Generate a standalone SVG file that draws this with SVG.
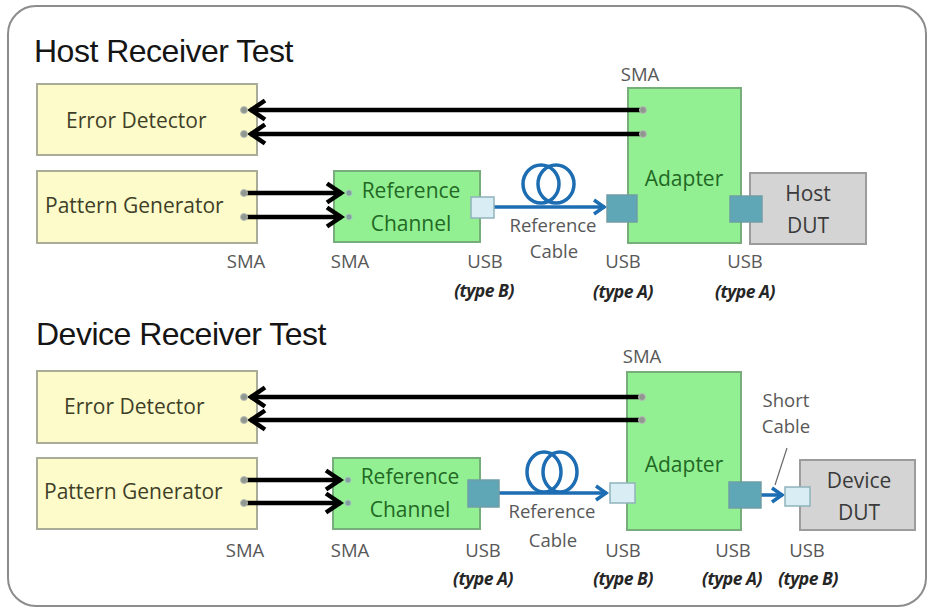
<svg xmlns="http://www.w3.org/2000/svg" width="927" height="610" viewBox="0 0 927 610">
  <style>
    .title { font-family: "Liberation Sans", Arial, sans-serif; font-size: 32px; letter-spacing: -0.5px; fill: #151515; }
    .yellow { fill: #fdfbc9; stroke: #a9ad98; stroke-width: 2; }
    .green { fill: #92f092; stroke: #76ad7a; stroke-width: 2; }
    .grey { fill: #d4d4d4; stroke: #9c9c9c; stroke-width: 2; }
    .ytxt { font-family: "Open Sans", "Noto Sans", sans-serif; font-size: 21px; fill: #3f3f28; }
    .gtxt { font-family: "Open Sans", "Noto Sans", sans-serif; font-size: 21px; fill: #226824; text-anchor: middle; }
    .dtxt { font-family: "Open Sans", "Noto Sans", sans-serif; font-size: 21px; fill: #3a3a3a; text-anchor: middle; }
    .lbl { font-family: "Open Sans", "Noto Sans", sans-serif; font-size: 18.5px; fill: #585858; text-anchor: middle; }
    .typ { font-family: "Open Sans", "Noto Sans", sans-serif; font-size: 17.5px; font-weight: bold; font-style: italic; fill: #262626; text-anchor: middle; letter-spacing: -0.5px; }
    .sma { fill: #8f978f; stroke: #b8beb8; stroke-width: 1; }
    .smain { fill: #7fa39a; stroke: #a9c4bd; stroke-width: 1; }
    .usbA { fill: #5fa6b6; stroke: #6f9ea6; stroke-width: 1.5; }
    .usbB { fill: #d9edf5; stroke: #8fb2ba; stroke-width: 1.5; }
    .wire { stroke: #000; stroke-width: 4.5; fill: none; }
    .cable { stroke: #1d6db3; stroke-width: 3.5; fill: none; }
    .leader { stroke: #6a6a6a; stroke-width: 1.2; fill: none; }
  </style>
  <defs>
    <marker id="chev" markerUnits="userSpaceOnUse" markerWidth="24" markerHeight="26" refX="18" refY="12" orient="auto">
      <path d="M3,2.5 L17,12 L3,21.5" fill="none" stroke="#000" stroke-width="4.5"/>
    </marker>
    <marker id="chevBlue" markerUnits="userSpaceOnUse" markerWidth="20" markerHeight="22" refX="14" refY="10" orient="auto">
      <path d="M3,3 L13,10 L3,17" fill="none" stroke="#1d6db3" stroke-width="3.5"/>
    </marker>
  </defs>

  <rect width="927" height="610" fill="#ffffff"/>
  <!-- outer frame -->
  <rect x="8" y="6" width="918" height="600" rx="28" fill="none" stroke="#8c8c8c" stroke-width="2"/>

  <!-- ===== Host receiver test ===== -->
  <text class="title" x="34" y="62">Host Receiver Test</text>

  <g id="host-error-detector">
    <rect class="yellow" x="37" y="84" width="220" height="71"/>
    <text class="ytxt" x="66" y="128">Error Detector</text>
  </g>
  <g id="host-pattern-generator">
    <rect class="yellow" x="37" y="171" width="220" height="72"/>
    <text class="ytxt" x="45" y="213">Pattern Generator</text>
  </g>
  <g id="host-reference-channel">
    <rect class="green" x="334" y="171" width="146" height="71"/>
    <text class="gtxt" x="411" y="198">Reference</text>
    <text class="gtxt" x="411" y="231">Channel</text>
  </g>
  <g id="host-adapter">
    <rect class="green" x="628" y="88" width="113" height="155"/>
    <text class="gtxt" x="684" y="186">Adapter</text>
  </g>
  <g id="host-dut">
    <rect class="grey" x="750" y="173" width="116" height="71"/>
    <text class="dtxt" x="808" y="201">Host</text>
    <text class="dtxt" x="808" y="233">DUT</text>
  </g>

  <!-- ===== Device receiver test ===== -->
  <text class="title" x="36" y="345">Device Receiver Test</text>

  <g id="device-error-detector">
    <rect class="yellow" x="37" y="371" width="220" height="72"/>
    <text class="ytxt" x="64" y="414">Error Detector</text>
  </g>
  <g id="device-pattern-generator">
    <rect class="yellow" x="37" y="458" width="220" height="71"/>
    <text class="ytxt" x="44" y="499">Pattern Generator</text>
  </g>
  <g id="device-reference-channel">
    <rect class="green" x="333" y="458" width="147" height="71"/>
    <text class="gtxt" x="410" y="484">Reference</text>
    <text class="gtxt" x="410" y="517">Channel</text>
  </g>
  <g id="device-adapter">
    <rect class="green" x="627" y="372" width="114" height="158"/>
    <text class="gtxt" x="684" y="472">Adapter</text>
  </g>
  <g id="device-dut">
    <rect class="grey" x="800" y="460" width="115" height="70"/>
    <text class="dtxt" x="859" y="488">Device</text>
    <text class="dtxt" x="859" y="520">DUT</text>
  </g>

  <!-- connectors: SMA coax pairs and USB cables -->
  <g id="connectors">
    <!-- host section -->
    <line class="wire" x1="643" y1="110" x2="250" y2="110" marker-end="url(#chev)"/>
    <line class="wire" x1="643" y1="134" x2="250" y2="134" marker-end="url(#chev)"/>
    <line class="wire" x1="244" y1="193" x2="342" y2="193" marker-end="url(#chev)"/>
    <line class="wire" x1="244" y1="217" x2="342" y2="217" marker-end="url(#chev)"/>
    <ellipse class="cable" cx="541" cy="184" rx="18" ry="19"/>
    <ellipse class="cable" cx="556" cy="184" rx="18" ry="19"/>
    <line class="cable" x1="494" y1="207" x2="605" y2="207" marker-end="url(#chevBlue)"/>

    <!-- device section -->
    <line class="wire" x1="642" y1="397" x2="250" y2="397" marker-end="url(#chev)"/>
    <line class="wire" x1="642" y1="420" x2="250" y2="420" marker-end="url(#chev)"/>
    <line class="wire" x1="244" y1="480" x2="341" y2="480" marker-end="url(#chev)"/>
    <line class="wire" x1="244" y1="503" x2="341" y2="503" marker-end="url(#chev)"/>
    <ellipse class="cable" cx="544" cy="472" rx="17" ry="20"/>
    <ellipse class="cable" cx="560" cy="472" rx="17" ry="20"/>
    <line class="cable" x1="499" y1="493" x2="607" y2="493" marker-end="url(#chevBlue)"/>
    <line class="cable" x1="761" y1="495" x2="783" y2="495" marker-end="url(#chevBlue)"/>
    <line class="leader" x1="787" y1="448" x2="775" y2="485"/>
  </g>

  <!-- ports -->
  <g id="host-ports">
    <circle class="sma" cx="244" cy="110" r="3.5"/>
    <circle class="sma" cx="244" cy="134" r="3.5"/>
    <circle class="sma" cx="244" cy="193" r="3.5"/>
    <circle class="sma" cx="244" cy="217" r="3.5"/>
    <circle class="smain" cx="349" cy="193" r="3"/>
    <circle class="smain" cx="349" cy="217" r="3"/>
    <circle class="sma" cx="643" cy="110" r="3.5"/>
    <circle class="sma" cx="643" cy="134" r="3.5"/>
    <rect class="usbB" x="471" y="197" width="23" height="21"/>
    <rect class="usbA" x="607" y="195" width="30" height="27"/>
    <rect class="usbA" x="730" y="196" width="32" height="26"/>
  </g>
  <g id="device-ports">
    <circle class="sma" cx="244" cy="397" r="3.5"/>
    <circle class="sma" cx="244" cy="420" r="3.5"/>
    <circle class="sma" cx="244" cy="480" r="3.5"/>
    <circle class="sma" cx="244" cy="503" r="3.5"/>
    <circle class="smain" cx="348" cy="480" r="3"/>
    <circle class="smain" cx="348" cy="503" r="3"/>
    <circle class="sma" cx="642" cy="397" r="3.5"/>
    <circle class="sma" cx="642" cy="420" r="3.5"/>
    <rect class="usbA" x="468" y="480" width="31" height="27"/>
    <rect class="usbB" x="610" y="483" width="25" height="20"/>
    <rect class="usbA" x="729" y="482" width="32" height="26"/>
    <rect class="usbB" x="785" y="487" width="25" height="19"/>
  </g>

  <!-- connector labels -->
  <g id="host-labels">
    <text class="lbl" x="640" y="81">SMA</text>
    <text class="lbl" x="246" y="268">SMA</text>
    <text class="lbl" x="350" y="268">SMA</text>
    <text class="lbl" x="485" y="268">USB</text>
    <text class="typ" x="484" y="297">(type B)</text>
    <text class="lbl" x="553" y="232">Reference</text>
    <text class="lbl" x="554" y="258">Cable</text>
    <text class="lbl" x="623" y="268">USB</text>
    <text class="typ" x="623" y="298">(type A)</text>
    <text class="lbl" x="745" y="268">USB</text>
    <text class="typ" x="745" y="298">(type A)</text>
  </g>
  <g id="device-labels">
    <text class="lbl" x="642" y="363">SMA</text>
    <text class="lbl" x="786" y="407">Short</text>
    <text class="lbl" x="786" y="433">Cable</text>
    <text class="lbl" x="245" y="557">SMA</text>
    <text class="lbl" x="350" y="557">SMA</text>
    <text class="lbl" x="483" y="557">USB</text>
    <text class="typ" x="483" y="585">(type A)</text>
    <text class="lbl" x="552" y="518">Reference</text>
    <text class="lbl" x="553" y="547">Cable</text>
    <text class="lbl" x="623" y="557">USB</text>
    <text class="typ" x="623" y="585">(type B)</text>
    <text class="lbl" x="733" y="557">USB</text>
    <text class="typ" x="732" y="585">(type A)</text>
    <text class="lbl" x="807" y="557">USB</text>
    <text class="typ" x="808" y="585">(type B)</text>
  </g>
</svg>
